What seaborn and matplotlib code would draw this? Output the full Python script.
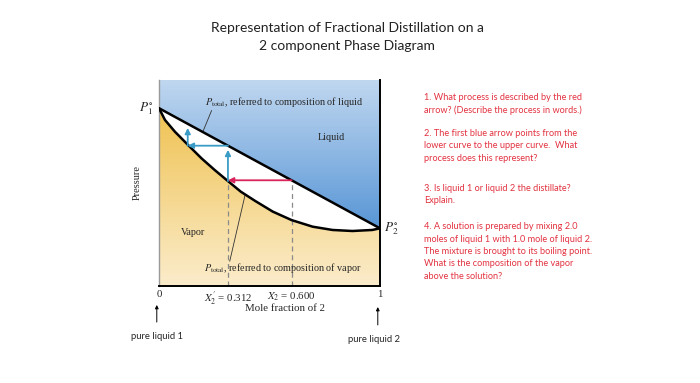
import matplotlib
matplotlib.use("Agg")

import matplotlib.pyplot as plt
from matplotlib.patches import Polygon
from matplotlib.colors import to_rgb
import seaborn as sns
import numpy as np
import pandas as pd

# --- data ---
liquid_x = [0.0, 1.0]
liquid_p = [0.863, 0.28]
vapor_x = [0.0, 0.027, 0.072, 0.132, 0.192, 0.252, 0.31, 0.37, 0.435, 0.515,
           0.60, 0.695, 0.785, 0.875, 0.965, 1.0]
vapor_p = [0.863, 0.806, 0.749, 0.684, 0.62, 0.563, 0.511, 0.458, 0.413, 0.361,
           0.32, 0.288, 0.272, 0.267, 0.272, 0.28]
x2_liquid = 0.600      # starting liquid composition
x2_vapor = 0.312       # vapour in equilibrium
x2_second = 0.13       # next vapour step
tick_pos = [0.0, 0.312, 0.600, 1.0]
tick_labels = ["0", r"$X_2^{\prime}$ = 0.312", r"$X_2$ = 0.600", "1"]

questions = [
    "1. What process is described by the red\narrow? (Describe the process in words.)",
    "2. The first blue arrow points from the\nlower curve to the upper curve.  What\nprocess does this represent?",
    "3. Is liquid 1 or liquid 2 the distillate?\nExplain.",
    "4. A solution is prepared by mixing 2.0\nmoles of liquid 1 with 1.0 mole of liquid 2.\n"
    "The mixture is brought to its boiling point.\nWhat is the composition of the vapor\nabove the solution?",
]

sns.set_style("white")
plt.rcParams["mathtext.fontset"] = "stix"
SERIF = ["Liberation Serif", "DejaVu Serif"]
SANS = ["Lato", "DejaVu Sans"]
RED = "#e2313f"
BLUE_ARROW = "#3a9cc6"
PINK_ARROW = "#d8245a"

fig = plt.figure(figsize=(7, 3.83), dpi=100)
ax = fig.add_axes([159 / 700, 97 / 383, 221 / 700, 206 / 383])
ax.set_xlim(0, 1)
ax.set_ylim(0, 1)


def gradient(c_top, c_bot, y_top, y_bot):
    t = np.clip((np.linspace(1, 0, 300) - y_bot) / (y_top - y_bot), 0, 1)[:, None, None]
    return t * np.array(to_rgb(c_top)) + (1 - t) * np.array(to_rgb(c_bot))


# liquid region (above upper line)
blue_poly = Polygon(list(zip(liquid_x, liquid_p)) + [(1, 1), (0, 1)], closed=True,
                    transform=ax.transData, facecolor="none", edgecolor="none")
ax.add_patch(blue_poly)
im = ax.imshow(np.repeat(gradient("#c0d7f0", "#5896d6", 1.0, 0.28), 2, axis=1),
               extent=[0, 1, 0, 1], aspect="auto", zorder=0)
im.set_clip_path(blue_poly)

# vapour region (below lower curve)
yellow_poly = Polygon(list(zip(vapor_x, vapor_p)) + [(1, 0), (0, 0)], closed=True,
                      transform=ax.transData, facecolor="none", edgecolor="none")
ax.add_patch(yellow_poly)
im2 = ax.imshow(np.repeat(gradient("#efc252", "#fbeccb", 0.86, 0.0), 2, axis=1),
                extent=[0, 1, 0, 1], aspect="auto", zorder=0)
im2.set_clip_path(yellow_poly)

# curves
liq = pd.DataFrame({"x": liquid_x, "p": liquid_p})
vap = pd.DataFrame({"x": vapor_x, "p": vapor_p})
sns.lineplot(data=liq, x="x", y="p", ax=ax, color="black", lw=1.8, sort=False, zorder=3)
sns.lineplot(data=vap, x="x", y="p", ax=ax, color="black", lw=1.8, sort=False, zorder=3)


def p_liq(x):
    return np.interp(x, liquid_x, liquid_p)


def p_vap(x):
    return np.interp(x, vapor_x, vapor_p)


# dashed guides
ax.vlines([x2_vapor], 0, p_vap(x2_vapor), colors="#8a8a8a", linestyles=(0, (4, 3)), lw=0.9, zorder=2)
ax.vlines([x2_liquid], 0, p_liq(x2_liquid), colors="#8a8a8a", linestyles=(0, (4, 3)), lw=0.9, zorder=2)

arrow_kw = dict(arrowstyle="-|>", mutation_scale=8, lw=1.3, shrinkA=0, shrinkB=0)
p0 = p_liq(x2_liquid)
ax.annotate("", xy=(x2_vapor, p0), xytext=(x2_liquid, p0),
            arrowprops=dict(color=PINK_ARROW, **arrow_kw), zorder=4)
p1 = p_liq(x2_vapor)
ax.annotate("", xy=(x2_vapor, p1 - 0.02), xytext=(x2_vapor, p_vap(x2_vapor)),
            arrowprops=dict(color=BLUE_ARROW, **arrow_kw), zorder=4)
ax.annotate("", xy=(x2_second, p1), xytext=(x2_vapor, p1),
            arrowprops=dict(color=BLUE_ARROW, **arrow_kw), zorder=4)
ax.annotate("", xy=(x2_second, p_liq(x2_second) - 0.02), xytext=(x2_second, p1),
            arrowprops=dict(color=BLUE_ARROW, **arrow_kw), zorder=4)

# labels inside the diagram, with short leader lines
ax.text(0.21, 0.893, r"$P_{\mathrm{total}}$, referred to composition of liquid",
        fontsize=7.3, family=SERIF, va="center", ha="left")
ax.plot([0.238, 0.198], [0.852, p_liq(0.198)], color="#333333", lw=0.6)
ax.text(0.205, 0.089, r"$P_{\mathrm{total}}$, referred to composition of vapor",
        fontsize=7.3, family=SERIF, va="center", ha="left")
ax.plot([0.32, 0.39], [0.12, p_vap(0.39)], color="#333333", lw=0.6)
ax.text(0.78, 0.723, "Liquid", fontsize=7.3, family=SERIF, ha="center", va="center")
ax.text(0.153, 0.262, "Vapor", fontsize=7.3, family=SERIF, ha="center", va="center")
ax.text(-0.025, liquid_p[0], r"$P_1^{\circ}$", fontsize=9.5, ha="right", va="center")
ax.text(1.02, liquid_p[-1], r"$P_2^{\circ}$", fontsize=9.5, ha="left", va="center")

# axes frame and ticks
ax.spines["top"].set_visible(False)
ax.spines["left"].set_color("#9a9a9a")
ax.spines["left"].set_linewidth(1.0)
for side in ["right", "bottom"]:
    ax.spines[side].set_color("black")
    ax.spines[side].set_linewidth(1.4)
ax.set_xticks(tick_pos)
ax.set_xticklabels(tick_labels, family=SERIF, fontsize=7.8)
ax.tick_params(axis="x", length=0, pad=3)
ax.set_yticks([])
ax.set_xlabel("Mole fraction of 2", family=SERIF, fontsize=7.8)
ax.xaxis.set_label_coords(0.57, -0.085)
ax.set_ylabel("Pressure", family=SERIF, fontsize=7.5)
ax.yaxis.set_label_coords(-0.08, 0.5)

# pure-component pointers under the axis
for xp, y0, y1, lbl, ylbl in [(-0.01, -0.175, -0.092, "pure liquid 1", -0.243),
                              (0.99, -0.189, -0.102, "pure liquid 2", -0.262)]:
    ax.annotate("", xy=(xp, y1), xytext=(xp, y0), xycoords=ax.get_xaxis_transform(),
                textcoords=ax.get_xaxis_transform(),
                arrowprops=dict(arrowstyle="-|>", color="black", lw=0.7, mutation_scale=5,
                                shrinkA=0, shrinkB=0), annotation_clip=False)
    ax.text(xp - 0.015 if xp > 0.5 else xp, ylbl, lbl, transform=ax.get_xaxis_transform(),
            family=SANS, fontsize=6.8, ha="center", va="center")

# title
fig.text(347 / 700, 1 - 28 / 383, "Representation of Fractional Distillation on a",
         family=SANS, fontsize=10, ha="center", va="center", color="#222222")
fig.text(347 / 700, 1 - 46 / 383, "2 component Phase Diagram",
         family=SANS, fontsize=10, ha="center", va="center", color="#222222")

# questions on the right
for txt, ytop in zip(questions, [93, 129, 184, 222]):
    fig.text(424 / 700, 1 - ytop / 383, txt, family=SANS, fontsize=6.6, color=RED,
             ha="left", va="top", linespacing=1.5)

fig.savefig("out.png", dpi=100)
